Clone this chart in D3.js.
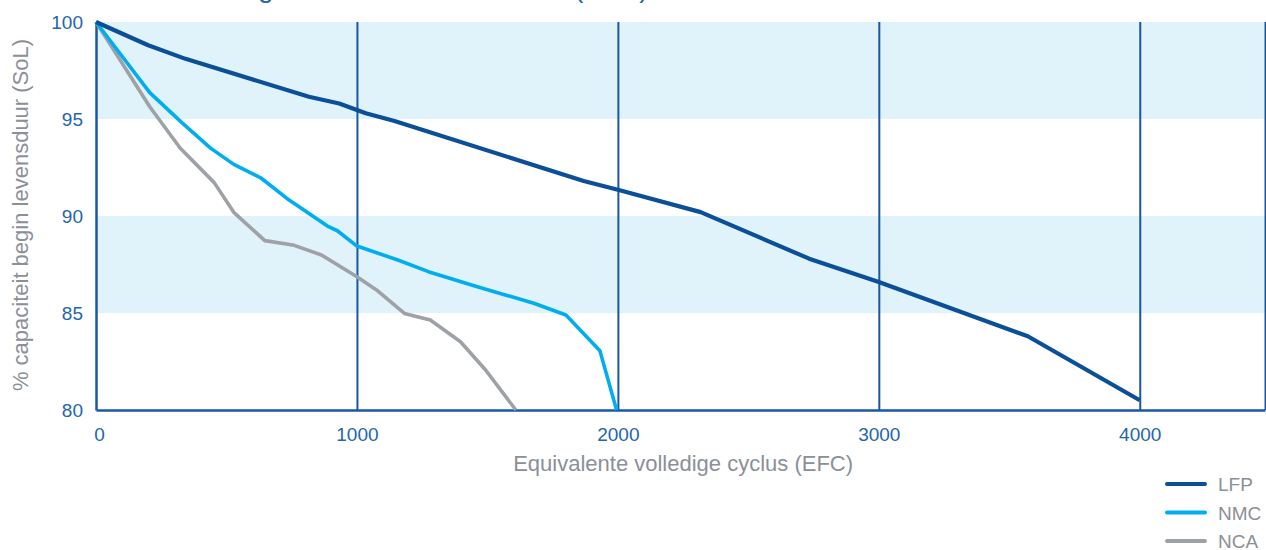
<!DOCTYPE html>
<html>
<head>
<meta charset="utf-8">
<script src="https://cdn.jsdelivr.net/npm/d3@7"></script>
<style>
    body { margin: 0; background: #fff; }
    svg { display: block; font-family: "Liberation Sans", Arial, sans-serif; }
</style>
</head>
<body>
<svg id="chart" width="1266" height="550"></svg>
<script>
// data
const seriesNames = ["LFP", "NMC", "NCA"];
const seriesColors = ["#0b4f98", "#00aeef", "#9ea2a6"];

const lfpCycles = [0, 200, 343, 816, 932, 1034, 1144, 1869, 2000, 2317, 2733, 3000, 3571, 4000];
const lfpSoL = [100, 98.8, 98.1, 96.15, 95.8, 95.3, 94.9, 91.8, 91.35, 90.2, 87.8, 86.6, 83.8, 80.5];

const nmcCycles = [0, 206, 330, 439, 528, 631, 740, 891, 925, 1000, 1157, 1274, 1452, 1678, 1801, 1931, 1995];
const nmcSoL = [100, 96.36, 94.8, 93.5, 92.66, 91.97, 90.82, 89.45, 89.24, 88.45, 87.73, 87.13, 86.39, 85.5, 84.9, 83.06, 80];

const ncaCycles = [0, 206, 323, 453, 528, 647, 754, 864, 1000, 1075, 1182, 1281, 1397, 1493, 1609];
const ncaSoL = [100, 95.63, 93.49, 91.72, 90.19, 88.73, 88.51, 87.99, 86.87, 86.19, 84.98, 84.64, 83.52, 82.06, 80];

const xTicks = [0, 1000, 2000, 3000, 4000];
const yTicks = [80, 85, 90, 95, 100];
const bands = [[95, 100], [85, 90]];

const titleText = "Veroudering van de cellen in functie (EFC)";
const xTitle = "Equivalente volledige cyclus (EFC)";
const yTitle = "% capaciteit begin levensduur (SoL)";

const axisBlue = "#1a57a0";
const tickBlue = "#2466ad";
const grey = "#8b9097";

const margin = { top: 22, right: 1, bottom: 140, left: 96 };
const width = 1266 - margin.left - margin.right;
const height = 550 - margin.top - margin.bottom;

const svg = d3.select("#chart");
const g = svg.append("g").attr("transform", `translate(${margin.left},${margin.top})`);

const x = d3.scaleLinear().domain([0, 4480]).range([0, width]);
const y = d3.scaleLinear().domain([80, 100]).range([height, 0]);

// light bands
g.selectAll(".band")
    .data(bands)
    .enter()
    .append("rect")
    .attr("x", 0)
    .attr("width", width)
    .attr("y", d => y(d[1]))
    .attr("height", d => y(d[0]) - y(d[1]))
    .attr("fill", "#e0f2fa");

// vertical gridlines (last one closes the plot on the right)
const xGrid = d3.axisBottom(x).tickValues(xTicks.slice(1).concat([4480])).tickSize(-height).tickFormat("");
g.append("g")
    .attr("transform", `translate(0,${height})`)
    .call(xGrid)
    .call(s => s.select(".domain").remove())
    .selectAll("line")
    .attr("stroke", axisBlue)
    .attr("stroke-width", 2);

// axes
const xAxis = g.append("g")
    .attr("transform", `translate(0,${height})`)
    .call(d3.axisBottom(x).tickValues(xTicks).tickSize(0).tickPadding(18).tickFormat(d3.format("d")));
xAxis.select(".domain").attr("stroke", axisBlue).attr("stroke-width", 2.5);
xAxis.selectAll("text").attr("fill", tickBlue).style("font-size", "19px");
xAxis.selectAll(".tick").filter(d => d === 0).select("text").attr("dx", 3);

const yAxis = g.append("g")
    .call(d3.axisLeft(y).tickValues(yTicks).tickSize(0).tickPadding(13));
yAxis.select(".domain").attr("stroke", axisBlue).attr("stroke-width", 2.5);
yAxis.selectAll("text").attr("fill", tickBlue).style("font-size", "19px");

// axis titles
g.append("text")
    .attr("x", x(2250))
    .attr("y", height + 61)
    .attr("text-anchor", "middle")
    .attr("fill", grey)
    .style("font-size", "22px")
    .text(xTitle);

g.append("text")
    .attr("transform", "rotate(-90)")
    .attr("x", -(height / 2) + 1)
    .attr("y", -margin.left + 28)
    .attr("text-anchor", "middle")
    .attr("fill", grey)
    .style("font-size", "22px")
    .text(yTitle);

// lines
const series = [
    { name: seriesNames[0], color: seriesColors[0], w: 4.2, xs: lfpCycles, ys: lfpSoL },
    { name: seriesNames[1], color: seriesColors[1], w: 3.6, xs: nmcCycles, ys: nmcSoL },
    { name: seriesNames[2], color: seriesColors[2], w: 3.6, xs: ncaCycles, ys: ncaSoL }
];

const line = d3.line().x(d => x(d[0])).y(d => y(d[1]));

series.slice().reverse().forEach(s => {
    g.append("path")
        .datum(d3.zip(s.xs, s.ys))
        .attr("fill", "none")
        .attr("stroke", s.color)
        .attr("stroke-width", s.w)
        .attr("stroke-linejoin", "round")
        .attr("d", line);
});

// legend
const legend = svg.append("g").attr("transform", "translate(1167,484)");
series.forEach((s, i) => {
    const row = legend.append("g").attr("transform", `translate(0,${i * 28.5})`);
    row.append("line")
        .attr("x1", 0).attr("x2", 38)
        .attr("stroke", s.color)
        .attr("stroke-width", 4)
        .attr("stroke-linecap", "round");
    row.append("text")
        .attr("x", 51)
        .attr("y", 7)
        .attr("fill", grey)
        .style("font-size", "19px")
        .text(s.name);
});

// title, mostly cut off at the top
const title = svg.append("text")
    .attr("x", 0)
    .attr("y", -3)
    .attr("fill", tickBlue)
    .style("font-size", "28px")
    .text(titleText);
const gPos = title.node().getSubStringLength(0, titleText.indexOf("g"));
title.attr("x", 258 - gPos);
</script>
</body>
</html>
